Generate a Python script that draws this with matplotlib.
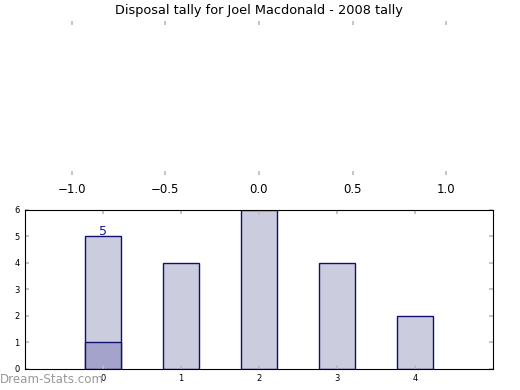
import matplotlib
matplotlib.use("Agg")
import matplotlib.pyplot as plt

# data
rounds = [0, 1, 2, 3, 4]
disposals = [5, 4, 6, 4, 2]
highlight_x = [0]
highlight_h = [1]
label_x = 0
label_val = "5"
top_ticks = [-1.0, -0.5, 0.0, 0.5, 1.0]

fig = plt.figure(figsize=(5.2, 3.9), dpi=100)

# empty upper axes (left over from the original layout)
ax_top = fig.add_axes([0.048, 0.551, 0.9, 0.395])
ax_top.set_xlim(-1.25, 1.25)
ax_top.set_ylim(0, 1)
for sp in ax_top.spines.values():
    sp.set_visible(False)
ax_top.set_xticks(top_ticks)
ax_top.set_yticks([])
ax_top.tick_params(axis="x", direction="in", length=3, width=1.2,
                   color="#bbbbbb", top=True, labelsize=8.5, pad=6)
ax_top.set_title("Disposal tally for Joel Macdonald - 2008 tally",
                 fontsize=9.3, pad=5)

# bar chart
ax = fig.add_axes([0.048, 0.054, 0.9, 0.4077])
ax.bar(rounds, disposals, width=0.46, color="#ccccdf",
       edgecolor="#101070", linewidth=1)
ax.bar(highlight_x, highlight_h, width=0.46, color="#a3a3cc",
       edgecolor="#101070", linewidth=1)
ax.text(label_x, disposals[label_x] - 0.07, label_val, ha="center",
        va="bottom", fontsize=9, color="#1a1a99")
ax.set_xlim(-1, 5)
ax.set_ylim(0, 6)
ax.set_xticks(rounds)
ax.set_yticks(range(7))
ax.tick_params(direction="in", length=3, width=1.2, color="#bbbbbb",
               top=True, right=True, labelsize=6, pad=4)

fig.text(0.0, 0.026, "Dream-Stats.com", fontsize=8.6, color="#999999",
         ha="left", va="center")

fig.savefig("out.png", dpi=100)
